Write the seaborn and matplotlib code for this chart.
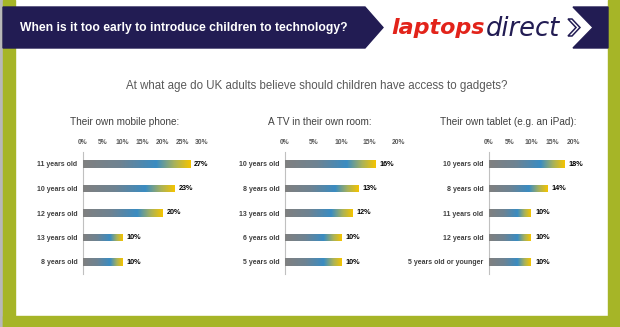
import numpy as np
import pandas as pd
import matplotlib
matplotlib.use("Agg")
import matplotlib.pyplot as plt
import seaborn as sns
from matplotlib.colors import LinearSegmentedColormap
from matplotlib.patches import Polygon, Rectangle

# ---------------- data ----------------
header_title = "When is it too early to introduce children to technology?"
subtitle = "At what age do UK adults believe should children have access to gadgets?"

phone_title = "Their own mobile phone:"
phone_ages = ["11 years old", "10 years old", "12 years old", "13 years old", "8 years old"]
phone_pct = [27, 23, 20, 10, 10]
phone_ticks = [0, 5, 10, 15, 20, 25, 30]

tv_title = "A TV in their own room:"
tv_ages = ["10 years old", "8 years old", "13 years old", "6 years old", "5 years old"]
tv_pct = [16, 13, 12, 10, 10]
tv_ticks = [0, 5, 10, 15, 20]

tablet_title = "Their own tablet (e.g. an iPad):"
tablet_ages = ["10 years old", "8 years old", "11 years old", "12 years old", "5 years old or younger"]
tablet_pct = [18, 14, 10, 10, 10]
tablet_ticks = [0, 5, 10, 15, 20]

# ---------------- style ----------------
sns.set_theme(style="white")
plt.rcParams["font.family"] = ["Liberation Sans", "DejaVu Sans"]

W, H = 620, 327
fig = plt.figure(figsize=(W / 100, H / 100), dpi=100)

navy = "#221c53"
green = "#a6b527"

# background / frame
bg = fig.add_axes([0, 0, 1, 1])
bg.set_xlim(0, W)
bg.set_ylim(H, 0)
bg.axis("off")
bg.add_patch(Rectangle((0, 0), W, H, color="white", zorder=0))
bg.add_patch(Rectangle((0, 0), 3, H, color="#b8b8b8", zorder=1))
bg.add_patch(Rectangle((3, 0), 12, H, color=green, zorder=1))
bg.add_patch(Rectangle((608, 0), 12, H, color=green, zorder=1))
bg.add_patch(Rectangle((3, 316), W - 3, 11, color=green, zorder=1))
bg.add_patch(Polygon([(3, 7), (365, 7), (383, 27.5), (365, 48), (3, 48)], color=navy, zorder=2))
bg.add_patch(Polygon([(573, 7), (608, 7), (608, 48), (573, 48), (593, 27.5)], color=navy, zorder=2))
bg.text(20, 28, header_title, color="white", fontweight="bold", fontsize=8.7, va="center", ha="left", zorder=3)
bg.text(485, 28.5, "laptops", color="#e2231a", fontweight="bold", style="italic",
        fontsize=16, va="center", ha="right", zorder=3, family=["DejaVu Sans"])
bg.text(486, 28.5, "direct", color=navy, style="italic", fontsize=18.5, va="center", ha="left",
        zorder=3, family=["DejaVu Sans"])
bg.add_patch(Polygon([(568, 19), (572, 19), (580, 27.5), (572, 36), (568, 36), (576, 27.5)],
                     facecolor="white", edgecolor=navy, lw=1.1, zorder=3))
bg.text(317, 86, subtitle, color="#595959", fontsize=8.3, ha="center", va="center", zorder=3)

cmap = LinearSegmentedColormap.from_list(
    "bar", [(0.0, "#808080"), (0.35, "#6e8392"), (0.68, "#3a8cc2"), (0.85, "#a9b25a"), (1.0, "#f5c400")])
grad = np.linspace(0, 1, 256).reshape(1, -1)

panels = [
    (phone_title, phone_ages, phone_pct, phone_ticks, 83, 119, 125),
    (tv_title, tv_ages, tv_pct, tv_ticks, 285, 113, 320),
    (tablet_title, tablet_ages, tablet_pct, tablet_ticks, 489, 84, 508),
]

top_px = 151.75
h_px = 122.5
for title, ages, pct, ticks, x0, wpx, tcx in panels:
    ax = fig.add_axes([x0 / W, 1 - (top_px + h_px) / H, wpx / W, h_px / H])
    ax.set_facecolor("none")
    df = pd.DataFrame({"age": ages, "pct": pct})
    sns.barplot(data=df, x="pct", y="age", orient="h", ax=ax, color="#808080",
                width=0.3, saturation=1)
    ax.set_xlim(0, ticks[-1])
    ylim = ax.get_ylim()
    for p in ax.patches:
        bx, by, bw, bh = p.get_x(), p.get_y(), p.get_width(), p.get_height()
        im = ax.imshow(grad, cmap=cmap, aspect="auto", extent=[bx, bx + bw, by + bh, by],
                       interpolation="bilinear", zorder=3)
        im.set_clip_path(p)
    ax.set_xlim(0, ticks[-1])
    ax.set_ylim(ylim)
    ax.bar_label(ax.containers[0], fmt="{:g}%", padding=3, fontsize=5.2,
                 fontweight="bold", color="black")
    ax.set_xlabel("")
    ax.set_ylabel("")
    ax.xaxis.tick_top()
    ax.set_xticks(ticks)
    ax.set_xticklabels([f"{t}%" for t in ticks])
    ax.tick_params(axis="x", length=0, pad=4, labelsize=4.9, labelcolor="#595959")
    ax.tick_params(axis="y", length=0, pad=4, labelsize=5.0, labelcolor="#404040")
    for lab in ax.get_yticklabels() + ax.get_xticklabels():
        lab.set_fontweight("bold")
    for s in ["top", "right", "bottom"]:
        ax.spines[s].set_visible(False)
    ax.spines["left"].set_color("#c0c0c0")
    ax.spines["left"].set_linewidth(0.8)
    ax.grid(False)
    bg.text(tcx, 122, title, color="#404040", fontsize=7.2, ha="center", va="center", zorder=3)

fig.savefig("out.png", dpi=100)
